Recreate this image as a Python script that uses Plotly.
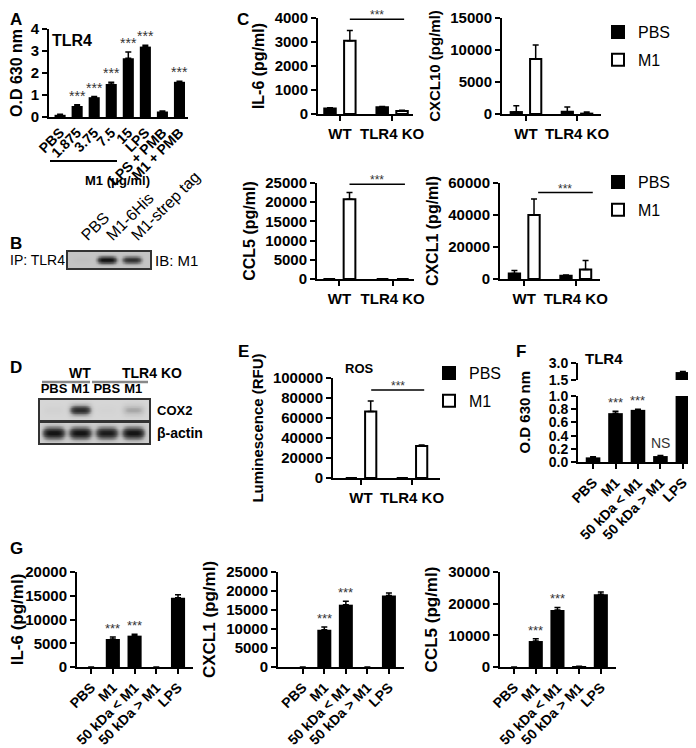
import numpy as np
import plotly.graph_objects as go

FONT = "Liberation Sans, Arial, sans-serif"
W, H = 696, 748
OFF = 8  # page body margin, the figure starts 8 px in from the window corner
FW, FH = W - OFF, H - OFF

# ---------------- data ----------------
# A: TLR4 reporter, O.D 630 nm
a_labels = ["PBS", "1.875", "3.75", "7.5", "15", "LPS", "LPS + PMB", "M1 + PMB"]
a_od = [0.10, 0.50, 0.90, 1.50, 2.67, 3.20, 0.25, 1.60]
a_err = [0.02, 0.06, 0.03, 0.08, 0.28, 0.06, 0.02, 0.03]
a_sig = ["", "***", "***", "***", "***", "***", "", "***"]

# B: IP TLR4 / IB M1 (band intensity 0..1)
b_lanes = ["PBS", "M1-6His", "M1-strep tag"]
b_band = [0.03, 0.85, 0.65]

# C: cytokines, WT vs TLR4 KO
c_groups = ["WT", "TLR4 KO"]
il6_pbs, il6_pbs_err = [230, 280], [30, 30]
il6_m1, il6_m1_err = [3050, 130], [430, 30]
cxcl10_pbs, cxcl10_pbs_err = [300, 350], [1000, 750]
cxcl10_m1, cxcl10_m1_err = [8600, 60], [2200, 250]
ccl5_pbs, ccl5_pbs_err = [0, 0], [0, 0]
ccl5_m1, ccl5_m1_err = [20800, 0], [1700, 0]
cxcl1_pbs, cxcl1_pbs_err = [3500, 2000], [1800, 500]
cxcl1_m1, cxcl1_m1_err = [40000, 6000], [10000, 5500]

# D: COX2 / beta-actin blot
d_groups = ["WT", "TLR4 KO"]
d_lanes = ["PBS", "M1", "PBS", "M1"]
d_cox2 = [0.03, 0.8, 0.02, 0.25]
d_actin = [0.9, 0.9, 0.85, 0.9]

# E: ROS
ros_pbs, ros_pbs_err = [0, 0], [0, 0]
ros_m1, ros_m1_err = [66500, 32000], [10500, 1000]

# F: TLR4 reporter with fractions
f_labels = ["PBS", "M1", "50 kDa < M1", "50 kDa > M1", "LPS"]
f_od = [0.07, 0.74, 0.79, 0.09, 2.2]
f_err = [0.01, 0.03, 0.01, 0.01, 0.05]
f_sig = ["", "***", "***", "NS", ""]

# G: cytokines with fractions
g_labels = f_labels
g_il6, g_il6_err = [0, 5900, 6600, 0, 14600], [0, 400, 300, 0, 600]
g_cxcl1, g_cxcl1_err = [0, 9800, 16400, 0, 18800], [0, 700, 900, 0, 700]
g_ccl5, g_ccl5_err = [0, 8200, 18000, 200, 23000], [0, 700, 800, 0, 700]
g_sig = ["", "***", "***", "", ""]


# ---------------- helpers ----------------
def px(x):
    return (x - OFF) / FW


def py(y):
    return 1 - (y - OFF) / FH


def dx(a, b):
    return [px(a), px(b)]


def dy(top, bottom):
    return [py(bottom), py(top)]


def ref(n):
    return ("x", "y") if n == 1 else (f"x{n}", f"y{n}")


def key(n, ax):
    return f"{ax}axis" if n == 1 else f"{ax}axis{n}"


def esc(s):
    return s.replace("<", "&lt;").replace(">", "&gt;")


def up_err(err):
    return dict(type="data", array=err, arrayminus=[0] * len(err), symmetric=False,
                color="black", thickness=1.5, width=3)


LINE = dict(showline=True, linecolor="black", linewidth=2, showgrid=False, zeroline=False,
            tickcolor="black", tickwidth=2, ticklen=5, automargin=False)

fig = go.Figure()
layout = dict(width=FW, height=FH, margin=dict(l=0, r=0, t=0, b=0), plot_bgcolor="white",
              paper_bgcolor="white", barmode="overlay", font=dict(family=FONT, color="black"),
              hovermode=False, template="none")
annotations = []
shapes = []


def y_axis(n, top, bottom, rng, dtick, title=None, tsize=16, fmt="d", standoff=6, size=15, **kw):
    d = dict(domain=dy(top, bottom), range=rng, tick0=0, dtick=dtick, anchor=ref(n)[0],
             ticks="outside", tickformat=fmt,
             tickfont=dict(family=FONT, size=size, color="black", weight="bold"), **LINE)
    if title:
        d["title"] = dict(text=title, font=dict(family=FONT, size=tsize, weight="bold"),
                          standoff=standoff)
    d.update(kw)
    layout[key(n, "y")] = d


def x_axis(n, left, right, rng, cats, angle=0, ticks="outside", size=15, **kw):
    d = dict(domain=dx(left, right), range=rng, type="category", categoryorder="array",
             categoryarray=cats, tickvals=cats, ticktext=[esc(c) for c in cats],
             anchor=ref(n)[1], ticks=ticks, tickangle=angle,
             tickfont=dict(family=FONT, size=size, color="black", weight="bold"), **LINE)
    d.update(kw)
    layout[key(n, "x")] = d


def note(text, x, y, size=15, bold=True, **kw):
    annotations.append(dict(text=text, x=px(x), y=py(y), xref="paper", yref="paper",
                            showarrow=False, font=dict(family=FONT, size=size, color="black",
                                                       weight="bold" if bold else "normal"), **kw))


def hline(x0, x1, y, color="black", width=2):
    shapes.append(dict(type="line", xref="paper", yref="paper", x0=px(x0), x1=px(x1),
                       y0=py(y), y1=py(y), line=dict(color=color, width=width)))


def stars(n, vals, errs, sig, size=13, yaxis=None):
    xa, ya = ref(n)
    for i, (v, e, s) in enumerate(zip(vals, errs, sig)):
        if s:
            annotations.append(dict(text=s, x=i, y=v + e, xref=xa, yref=yaxis or ya,
                                    showarrow=False, yanchor="bottom", yshift=-1,
                                    font=dict(family=FONT, size=size, color="#333")))


def sig_line(n, x0, x1, y, text="***"):
    xa, ya = ref(n)
    shapes.append(dict(type="line", xref=xa, yref=ya, x0=x0, x1=x1, y0=y, y1=y,
                       line=dict(color="black", width=1.5)))
    annotations.append(dict(text=text, x=(x0 + x1) / 2, y=y, xref=xa, yref=ya, showarrow=False,
                            yanchor="bottom", yshift=-5, font=dict(family=FONT, size=12, color="#333")))


def single_bars(n, cats, vals, errs, width=0.65, yaxis=None):
    xa, ya = ref(n)
    fig.add_trace(go.Bar(x=cats, y=vals, xaxis=xa, yaxis=yaxis or ya, width=width,
                         marker=dict(color="black", line=dict(width=0)),
                         error_y=up_err(errs), showlegend=False))


def pair_bars(n, cats, pbs, pbs_e, m1, m1_e, legend=None):
    xa, ya = ref(n)
    show = legend is not None
    lg = legend or "legend"
    fig.add_trace(go.Bar(name="PBS", x=cats, y=pbs, xaxis=xa, yaxis=ya, width=0.22, offset=-0.30,
                         marker=dict(color="black", line=dict(color="black", width=2)),
                         error_y=up_err(pbs_e), showlegend=show, legend=lg,
                         legendgroup=lg + "pbs"))
    fig.add_trace(go.Bar(name="M1", x=cats, y=m1, xaxis=xa, yaxis=ya, width=0.22, offset=0.08,
                         marker=dict(color="white", line=dict(color="black", width=2)),
                         error_y=up_err(m1_e), showlegend=show, legend=lg,
                         legendgroup=lg + "m1"))


def blot(n, left, right, top, bottom, intens, xr, wlane=0.33, hband=0.26, bg=0.12,
         lane_labels=None, lane_angle=0, lane_size=15, lane_bold=True):
    xa, ya = ref(n)
    xs = np.linspace(xr[0], xr[1], 220)
    ys = np.linspace(-0.5, 0.5, 30)
    z = np.full((len(ys), len(xs)), bg)
    for i, v in enumerate(intens):
        z += v * np.exp(-((xs - i) / wlane) ** 4)[None, :] * np.exp(-(ys / hband) ** 2)[:, None]
    fig.add_trace(go.Heatmap(x=xs, y=ys, z=z, xaxis=xa, yaxis=ya, zmin=0, zmax=1, zsmooth="best",
                             showscale=False, hoverinfo="skip",
                             colorscale=[[0, "#e2e2e2"], [0.25, "#bdbdbd"], [0.6, "#5a5a5a"],
                                         [1, "#141414"]]))
    frame = dict(showline=True, mirror=True, linecolor="#333", linewidth=1.5, showgrid=False,
                 zeroline=False, automargin=False)
    xd = dict(domain=dx(left, right), range=xr, anchor=ya, ticks="", **frame)
    if lane_labels:
        xd.update(side="top", tickvals=list(range(len(lane_labels))), ticktext=lane_labels,
                  tickangle=lane_angle,
                  tickfont=dict(family=FONT, size=lane_size, color="black",
                                weight="bold" if lane_bold else "normal"))
    else:
        xd.update(showticklabels=False)
    layout[key(n, "x")] = xd
    layout[key(n, "y")] = dict(domain=dy(top, bottom), range=[-0.5, 0.5], anchor=xa, ticks="",
                               showticklabels=False, **frame)


# ---------------- A ----------------
x_axis(1, 49, 188, [-0.65, 7.5], a_labels, angle=-45, ticks="", size=14)
y_axis(1, 29, 117, [0, 4], 1, title="O.D 630 nm", tsize=16)
single_bars(1, a_labels, a_od, a_err)
stars(1, a_od, a_err, a_sig, size=14)
note("TLR4", 50, 30, size=16, xanchor="left")
hline(50, 117, 161)
note("M1 (μg/ml)", 83, 171, size=13)

# ---------------- B ----------------
blot(2, 68, 150, 252, 268, b_band, [-0.56, 2.72], wlane=0.38, hband=0.22, bg=0.2,
     lane_labels=b_lanes, lane_angle=-45, lane_size=16, lane_bold=False)
note("IP: TLR4", 67, 260, size=14, bold=False, xanchor="right")
note("IB: M1", 153, 260, size=15, bold=False, xanchor="left")

# ---------------- C ----------------
x_axis(3, 318, 413, [-0.42, 1.4], c_groups)
y_axis(3, 18, 114, [0, 4000], 1000, title="IL-6 (pg/ml)")
pair_bars(3, c_groups, il6_pbs, il6_pbs_err, il6_m1, il6_m1_err, legend="legend")
sig_line(3, 0.19, 1.23, 3950)

x_axis(4, 502, 601, [-0.47, 1.47], c_groups)
y_axis(4, 18, 114, [0, 15000], 5000, title="CXCL10 (pg/ml)", tsize=15)
pair_bars(4, c_groups, cxcl10_pbs, cxcl10_pbs_err, cxcl10_m1, cxcl10_m1_err)

x_axis(5, 317, 414, [-0.42, 1.4], c_groups)
y_axis(5, 183, 279, [0, 25000], 5000, title="CCL5 (pg/ml)")
pair_bars(5, c_groups, ccl5_pbs, ccl5_pbs_err, ccl5_m1, ccl5_m1_err, legend="legend2")
sig_line(5, 0.19, 1.23, 24700)

x_axis(6, 500, 600, [-0.47, 1.47], c_groups)
y_axis(6, 183, 279, [0, 60000], 20000, title="CXCL1 (pg/ml)")
pair_bars(6, c_groups, cxcl1_pbs, cxcl1_pbs_err, cxcl1_m1, cxcl1_m1_err)
sig_line(6, 0.27, 1.33, 54000)

# ---------------- D ----------------
blot(7, 40, 149, 400, 420, d_cox2, [-0.53, 3.6], wlane=0.4, hband=0.25, bg=0.08,
     lane_labels=d_lanes, lane_size=13)
blot(8, 40, 149, 423, 443, d_actin, [-0.53, 3.6], wlane=0.42, hband=0.3, bg=0.12)
note(d_groups[0], 67, 373, size=14)
note(d_groups[1], 120, 373, size=14)
hline(42, 90, 382, color="#888", width=2.5)
hline(92, 148, 382, color="#888", width=2.5)
note("COX2", 155, 410, size=13, xanchor="left")
note("β-actin", 155, 433, size=14, xanchor="left")

# ---------------- E ----------------
x_axis(9, 333, 440, [-0.55, 1.55], c_groups)
y_axis(9, 378, 478, [0, 100000], 20000, title="Luminescence (RFU)", tsize=15)
pair_bars(9, c_groups, ros_pbs, ros_pbs_err, ros_m1, ros_m1_err, legend="legend3")
sig_line(9, 0.2, 1.24, 88000)
note("ROS", 343, 368, size=13, xanchor="left")

# ---------------- F (broken axis) ----------------
x_axis(10, 578, 693, [-0.67, 4.45], f_labels, angle=-45, size=14)
y_axis(10, 396, 462, [0, 1.0], 0.2, fmt=".1f", size=14)
y_axis(11, 363, 380, [1.5, 3.0], 1.5, fmt=".1f", size=14, tickvals=[1.5, 3.0], anchor="x10")
single_bars(10, f_labels, f_od, f_err)
single_bars(10, f_labels, f_od, f_err, yaxis="y11")
stars(10, f_od, f_err, [s if s == "***" else "" for s in f_sig], yaxis="y10")
annotations.append(dict(text="NS", x=3, y=f_od[3] + f_err[3], xref="x10", yref="y10",
                        showarrow=False, yanchor="bottom", yshift=2,
                        font=dict(family=FONT, size=14, color="#333")))
note("TLR4", 583, 358, size=15, xanchor="left")
note("O.D 630 nm", 534, 412, size=15, textangle=-90)

# ---------------- G ----------------
x_axis(12, 77, 193, [-0.65, 4.69], g_labels, angle=-45, size=14)
y_axis(12, 572, 667, [0, 20000], 5000, title="IL-6 (pg/ml)", tsize=17)
single_bars(12, g_labels, g_il6, g_il6_err)
stars(12, g_il6, g_il6_err, g_sig)

x_axis(13, 278, 404, [-1.15, 4.7], g_labels, angle=-45, size=14)
y_axis(13, 572, 667, [0, 25000], 5000, title="CXCL1 (pg/ml)", tsize=17)
single_bars(13, g_labels, g_cxcl1, g_cxcl1_err)
stars(13, g_cxcl1, g_cxcl1_err, g_sig)

x_axis(14, 500, 616, [-0.65, 4.7], g_labels, angle=-45, size=14)
y_axis(14, 572, 667, [0, 30000], 10000, title="CCL5 (pg/ml)", tsize=17)
single_bars(14, g_labels, g_ccl5, g_ccl5_err)
stars(14, g_ccl5, g_ccl5_err, g_sig)

# ---------------- panel letters ----------------
for letter, x, y in [("A", 8, 8), ("B", 8, 232), ("C", 235, 8), ("D", 8, 356),
                     ("E", 236, 340), ("F", 514, 340), ("G", 8, 537)]:
    note(letter, x, y, size=17, xanchor="left", yanchor="top")

# ---------------- legends ----------------
leg = dict(xanchor="left", yanchor="top", bgcolor="rgba(0,0,0,0)", tracegroupgap=4,
           font=dict(family=FONT, size=16, color="black"), itemwidth=30)
layout["legend"] = dict(x=px(598), y=py(15), **leg)
layout["legend2"] = dict(x=px(598), y=py(165), **leg)
layout["legend3"] = dict(x=px(429), y=py(356), **leg)
layout["showlegend"] = True
layout["annotations"] = annotations
layout["shapes"] = shapes

fig.update_layout(**layout)
fig.write_html("out.html")
